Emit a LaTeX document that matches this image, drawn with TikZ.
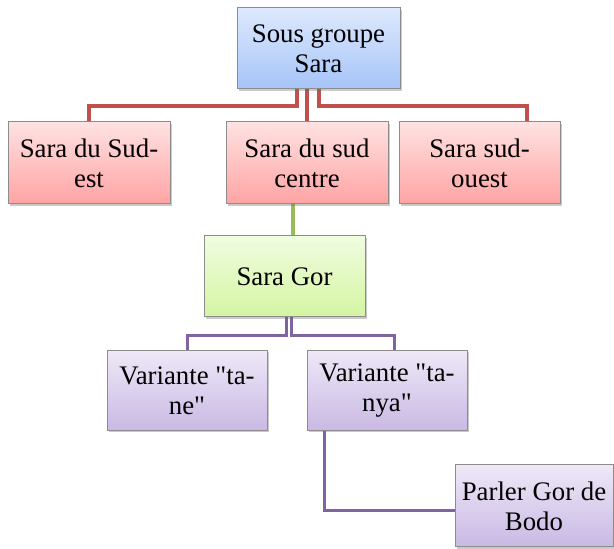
\documentclass[tikz,border=0pt]{standalone}
\usepackage{fontspec}
\setmainfont{Liberation Serif}[Ligatures=TeXOff]
\usetikzlibrary{shadows,backgrounds}
\definecolor{redline}{HTML}{C0504D}
\definecolor{greenline}{HTML}{9BBB59}
\definecolor{purpleline}{HTML}{8064A2}
\definecolor{boxborder}{HTML}{8C8C8C}
\tikzset{
  box/.style={draw=boxborder, line width=1pt, minimum width=161pt, minimum height=81pt,
    align=center, inner sep=2pt, font=\fontsize{26.8}{30}\selectfont,
    drop shadow={shadow xshift=1.5pt, shadow yshift=-2pt, opacity=0.35, fill=black!60}},
  bluebox/.style={box, top color={rgb,255:red,221;green,233;blue,253}, bottom color={rgb,255:red,166;green,196;blue,248}},
  redbox/.style={box, top color={rgb,255:red,255;green,226;blue,226}, bottom color={rgb,255:red,255;green,163;blue,163}},
  greenbox/.style={box, top color={rgb,255:red,240;green,252;blue,224}, bottom color={rgb,255:red,212;green,245;blue,162}},
  purplebox/.style={box, top color={rgb,255:red,238;green,232;blue,247}, bottom color={rgb,255:red,201;green,185;blue,228}},
  redconn/.style={draw=redline, line width=3.2pt},
  greenconn/.style={draw=greenline, line width=3.2pt},
  purpleconn/.style={draw=purpleline, line width=3pt},
}
\begin{document}
\begin{tikzpicture}[x=1pt,y=1pt]
\useasboundingbox (0,0) rectangle (614,549);
\node[bluebox, minimum width=163pt] (top) at (318.5,500.5) {Sous groupe\\Sara};
\node[redbox, minimum width=162pt, minimum height=82pt] (sde) at (89,386) {Sara du Sud-\\est};
\node[redbox, minimum width=162pt, minimum height=82pt] (sdc) at (307,386) {Sara du sud\\centre};
\node[redbox, minimum height=82pt] (so) at (479.5,386) {Sara sud-\\ouest};
\node[greenbox] (gor) at (284.5,272.5) {Sara Gor};
\node[purplebox, minimum width=160pt, minimum height=80pt] (tane) at (187,158.5) {Variante "ta-\\ne"};
\node[purplebox, minimum width=160pt, minimum height=80pt] (tanya) at (387,158.5) {Variante "ta-\\nya"};
\node[purplebox, minimum width=158pt, minimum height=82pt] (bodo) at (534,43) {Parler Gor de\\Bodo};
\begin{scope}[on background layer]
\coordinate (rl) at (297,443);
\coordinate (rr) at (319,443);
\draw[redconn] (top.south -| rl) -- (rl) -| (sde.north);
\draw[redconn] (top.south -| sdc.north) -- (sdc.north);
\draw[redconn] (top.south -| rr) -- (rr) -| ([xshift=47.5pt]so.north);
\coordinate (gl) at (293,0);
\draw[greenconn] (sdc.south -| gl) -- (gor.north -| gl);
\coordinate (pl) at (286,213);
\coordinate (pr) at (291.5,213);
\draw[purpleconn] (gor.south -| pl) -- (pl) -| (tane.north);
\draw[purpleconn] (gor.south -| pr) -- (pr) -| ([xshift=7pt]tanya.north);
\coordinate (bl) at (324,0);
\draw[purpleconn] (tanya.south -| bl) |- ([yshift=-5pt]bodo.west);
\end{scope}
\end{tikzpicture}
\end{document}
